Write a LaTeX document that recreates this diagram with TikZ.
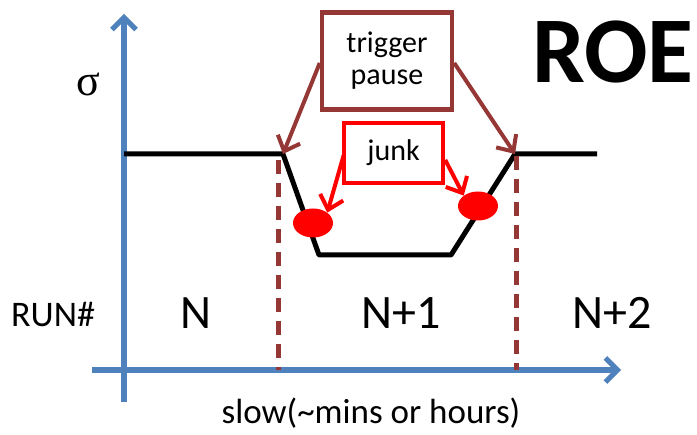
\documentclass[tikz,border=0pt]{standalone}
\usepackage{fontspec}
\setmainfont{Carlito}
\newfontfamily\greekfont{Liberation Serif}
\usetikzlibrary{arrows.meta,shapes.geometric}
\definecolor{axisblue}{RGB}{79,129,189}
\definecolor{pausered}{RGB}{149,55,53}
\definecolor{junkred}{RGB}{255,0,0}
\newcommand{\fs}[1]{\fontsize{#1}{#1}\selectfont}
\begin{document}
\begin{tikzpicture}[x=1pt, y=-1pt,
    axis/.style={axisblue, line width=5.5pt, -{Straight Barb[length=12pt, width=24pt, line width=5pt]}},
    curve/.style={black, line width=5pt, line join=round},
    cut/.style={pausered, line width=5pt, dash pattern=on 14pt off 9pt},
    box/.style={draw, line width=4.5pt, inner sep=0pt},
    barb/.style={line width=4pt, -{Straight Barb[length=13pt, width=24pt, line width=4pt]}},
    dot/.style={ellipse, fill=junkred, minimum width=40pt, minimum height=29pt, inner sep=0pt},
    every node/.style={text=black}]
\useasboundingbox (0,0) rectangle (697,435);

% Achsen
\draw[axis] (92,370) -- (621,370);
\draw[axis] (124,402) -- (124,14);

% Kurve
\coordinate (P0) at (124,154);
\coordinate (P1) at (283,154);
\coordinate (P2) at (319,255);
\coordinate (P3) at (451,255);
\coordinate (P4) at (515,154);
\coordinate (P5) at (597,154);
\draw[curve] (P0) -- (P1) -- (P2) -- (P3) -- (P4) -- (P5);

% Grenzen der Runs
\draw[cut] (278,160) -- (278,370);
\draw[cut] (516,156) -- (516,370);

% Junk-Punkte
\node[dot] (dotL) at (313,223) {};
\node[dot] (dotR) at (478,206) {};

% Kaesten
\node[box, draw=pausered, minimum width=130pt, minimum height=97pt, align=center,
      font={\fontsize{30}{32}\selectfont}] (pause) at (387,61) {trigger\\pause};
\node[box, draw=junkred, minimum width=99pt, minimum height=60pt,
      font={\fontsize{30}{32}\selectfont}] (junk) at (393.5,153) {junk};

% Pfeile
\draw[barb, pausered] (pause.west) ++(0,2) -- (P1);
\draw[barb, pausered] (pause.east) ++(0,2) -- (P4);
\draw[barb, junkred] (junk.west) ++(2,2) -- (dotL.north east);
\draw[barb, junkred] (junk.east) ++(0,7) -- (dotR.north west);

% Beschriftung
\node (sigma) at (88,84) {\greekfont\fs{44}σ};
\node (roe) at (613,52) {\fs{94}\bfseries ROE};
\node (run) at (53,314) {\fs{36}RUN\#};
\node (runN) at (196,313) {\fs{48}N};
\node (runN1) at (401,313) {\fs{48}N+1};
\node (runN2) at (612,313) {\fs{48}N+2};
\node (time) at (371,413) {\fs{35}slow(\textasciitilde mins or hours)};
\end{tikzpicture}
\end{document}
